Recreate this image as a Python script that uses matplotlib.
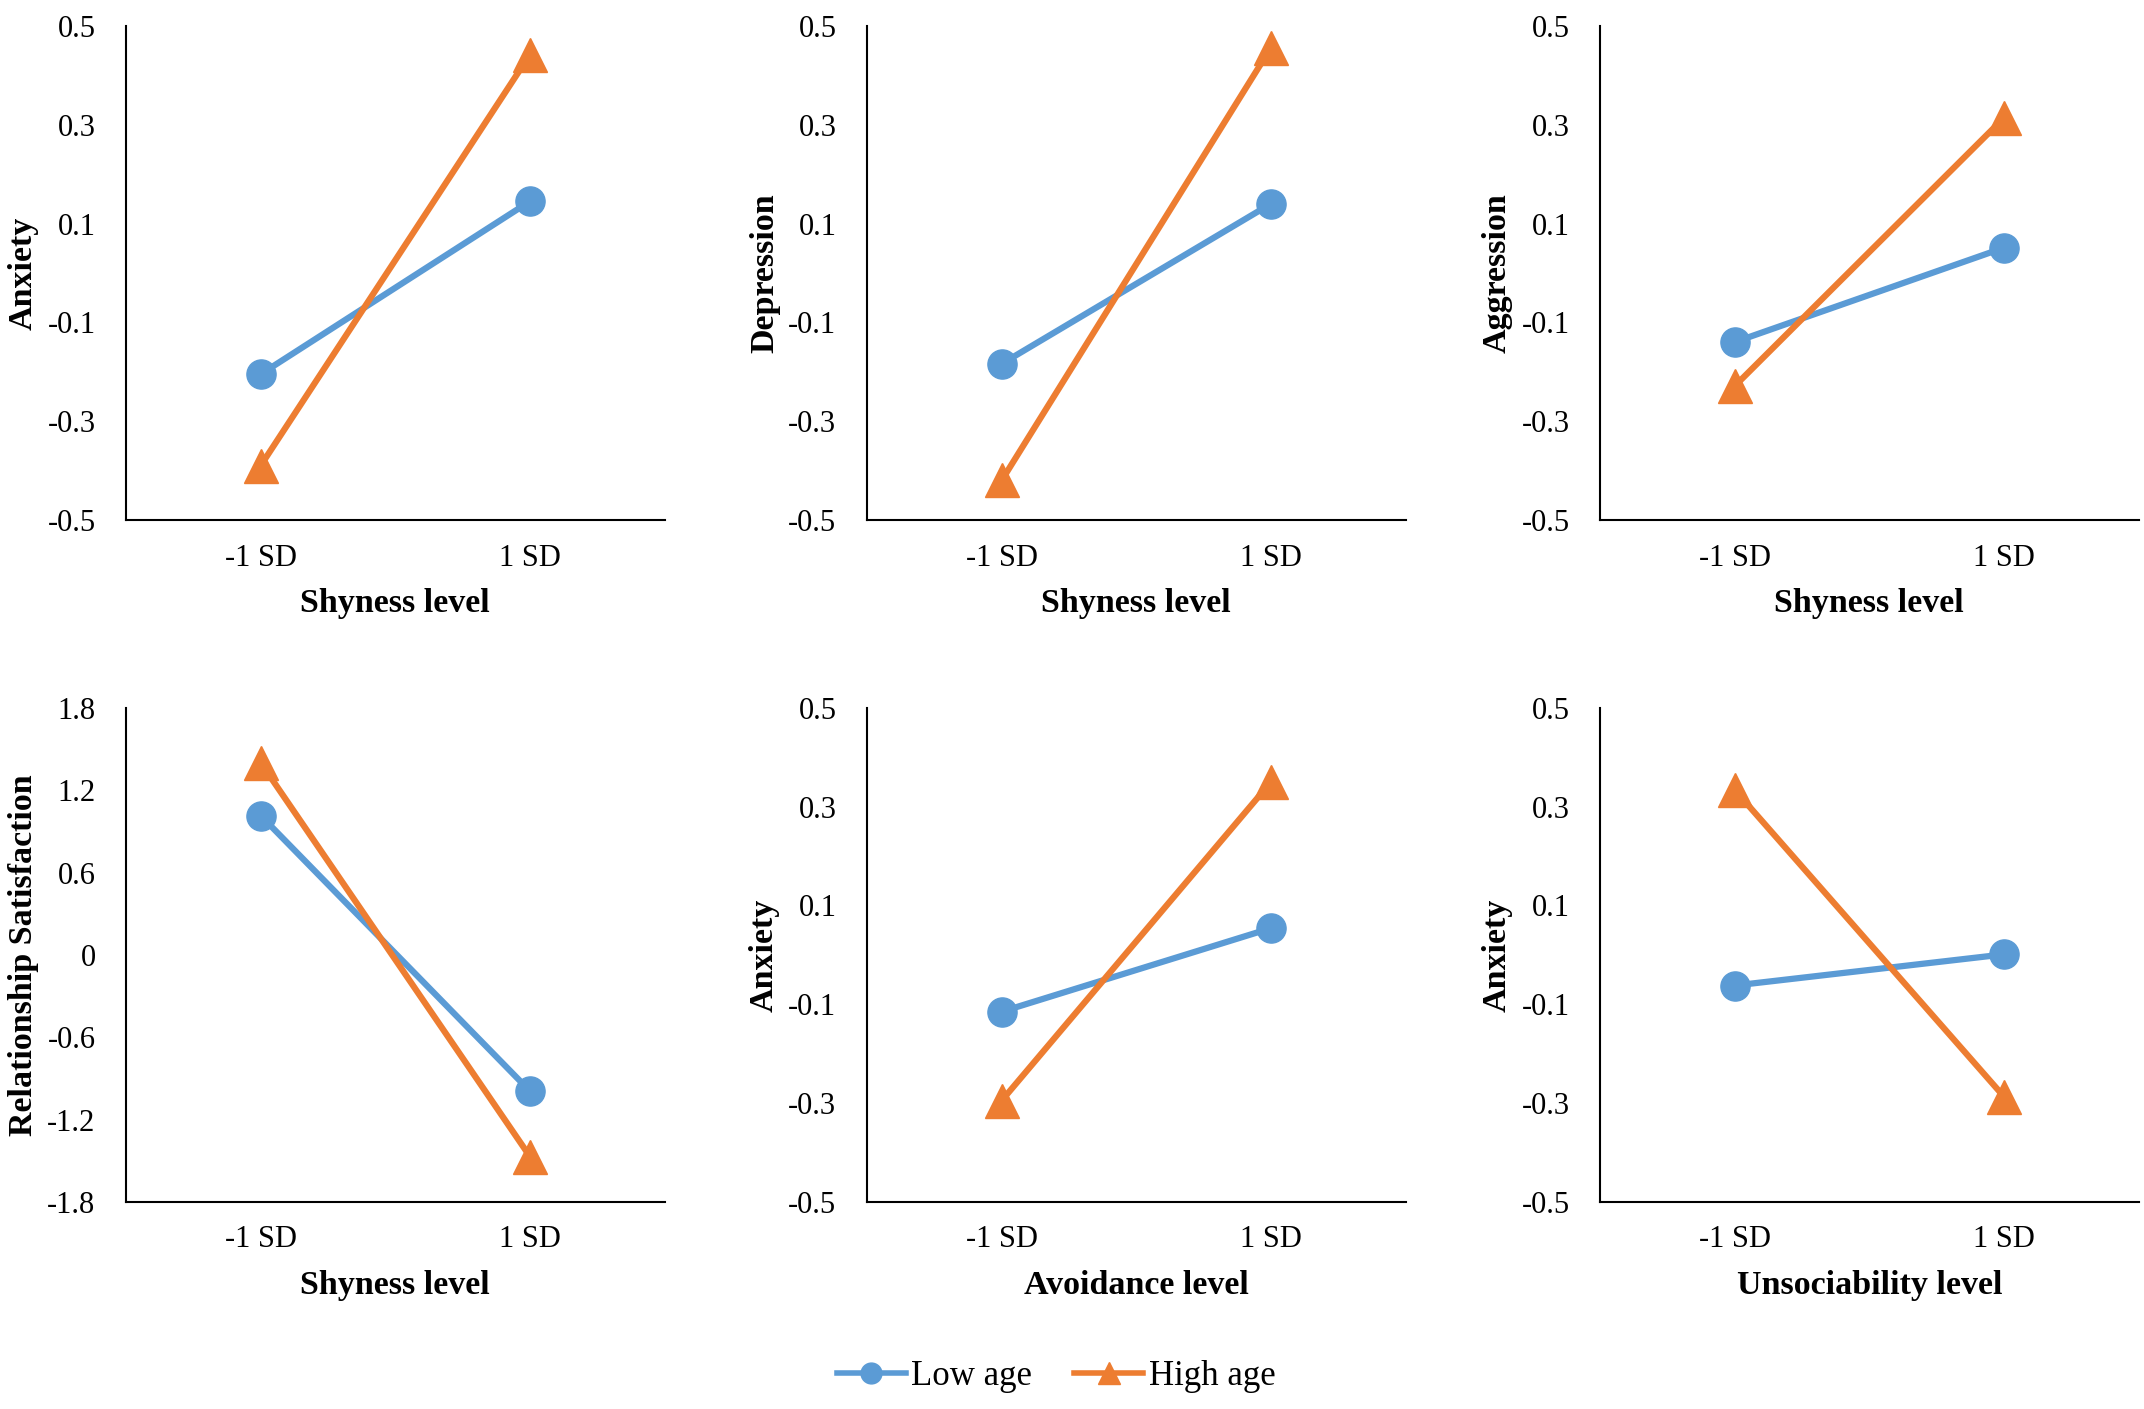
import numpy as np
import matplotlib
matplotlib.use('Agg')
import matplotlib.pyplot as plt
from matplotlib.lines import Line2D

plt.rcParams['font.family'] = ['Liberation Serif', 'DejaVu Serif']

# categories on the x axis
levels = ['-1 SD', '1 SD']
groups = ['Low age', 'High age']

# panel titles
ylabels = ['Anxiety', 'Depression', 'Aggression',
           'Relationship Satisfaction', 'Anxiety', 'Anxiety']
xlabels = ['Shyness level', 'Shyness level', 'Shyness level',
           'Shyness level', 'Avoidance level', 'Unsociability level']

# values (low age, high age)
anx_shy_low = [-0.205, 0.145]
anx_shy_high = [-0.39, 0.442]
dep_shy_low = [-0.184, 0.14]
dep_shy_high = [-0.42, 0.456]
agg_shy_low = [-0.14, 0.051]
agg_shy_high = [-0.229, 0.314]
rs_shy_low = [1.015, -0.993]
rs_shy_high = [1.40, -1.47]
anx_avo_low = [-0.115, 0.054]
anx_avo_high = [-0.295, 0.35]
anx_uns_low = [-0.062, 0.001]
anx_uns_high = [0.334, -0.287]

low_vals = [anx_shy_low, dep_shy_low, agg_shy_low, rs_shy_low, anx_avo_low, anx_uns_low]
high_vals = [anx_shy_high, dep_shy_high, agg_shy_high, rs_shy_high, anx_avo_high, anx_uns_high]

small_ticks = [-0.5, -0.3, -0.1, 0.1, 0.3, 0.5]
rs_ticks = [-1.8, -1.2, -0.6, 0, 0.6, 1.2, 1.8]
yticks = [small_ticks, small_ticks, small_ticks, rs_ticks, small_ticks, small_ticks]

blue = '#5B9BD5'
orange = '#ED7D31'

fig = plt.figure(figsize=(21.44, 14.09), dpi=100)

lefts = [0.0588, 0.4044, 0.7463]
bottoms = [0.631, 0.147]
w = 0.2512
h = 0.3506

x = np.arange(len(levels))
for i in range(6):
    r, c = divmod(i, 3)
    ax = fig.add_axes([lefts[c], bottoms[r], w, h])
    ax.plot(x, low_vals[i], color=blue, lw=4.5, marker='o', ms=21, zorder=3)
    ax.plot(x, high_vals[i], color=orange, lw=4.5, marker='^', ms=24, zorder=3)
    ax.set_xlim(-0.5, 1.5)
    t = yticks[i]
    ax.set_ylim(t[0], t[-1])
    ax.set_yticks(t)
    ax.set_yticklabels([('%g' % v) for v in t])
    ax.set_xticks(x)
    ax.set_xticklabels(levels)
    ax.tick_params(length=0, labelsize=22, pad=22)
    ax.tick_params(axis='x', pad=17)
    for s in ['top', 'right']:
        ax.spines[s].set_visible(False)
    for s in ['left', 'bottom']:
        ax.spines[s].set_linewidth(1.5)
    ax.set_ylabel(ylabels[i], fontsize=24.5, fontweight='bold', labelpad=6)
    ax.set_xlabel(xlabels[i], fontsize=24.5, fontweight='bold', labelpad=11)

handles = [Line2D([], [], color=blue, lw=4, marker='o', ms=15),
           Line2D([], [], color=orange, lw=4, marker='^', ms=16)]
fig.legend(handles, groups, loc='center', bbox_to_anchor=(0.4925, 0.023), ncol=2,
           frameon=False, fontsize=25, handlelength=2.0, columnspacing=1.2,
           handletextpad=0.15)

fig.savefig('out.png', dpi=100)
